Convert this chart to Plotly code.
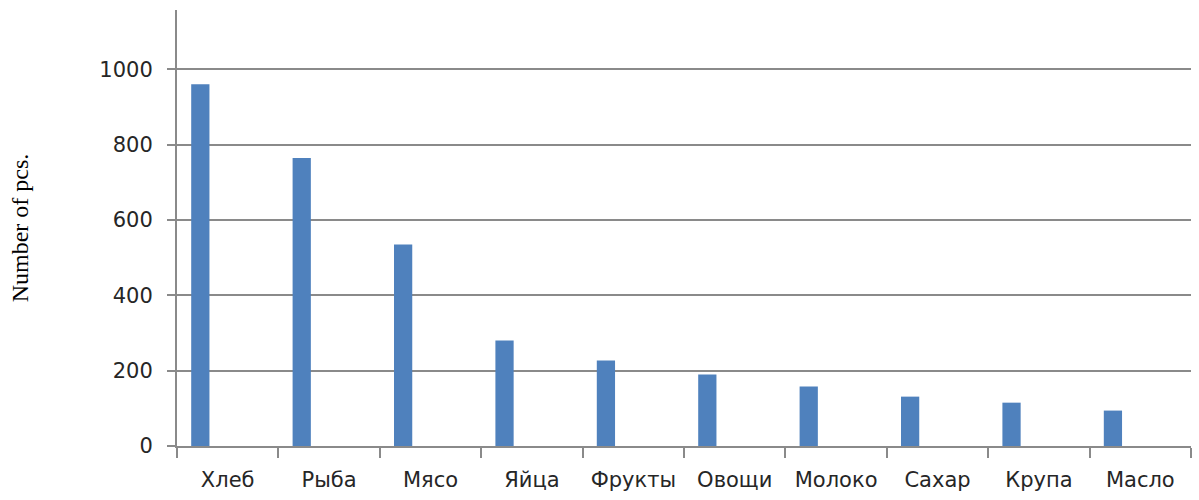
import plotly.graph_objects as go

# Product categories and counts
categories = ["Хлеб", "Рыба", "Мясо", "Яйца", "Фрукты", "Овощи", "Молоко", "Сахар", "Крупа", "Масло"]
counts = [960, 764, 535, 280, 227, 190, 158, 131, 115, 94]
y_ticks = [0, 200, 400, 600, 800, 1000]

tick_font = dict(family="DejaVu Sans", size=21, color="#262626")
axis_gray = "#8a8a8a"

fig = go.Figure(
    go.Bar(
        x=categories,
        y=counts,
        width=0.18,
        offset=-0.36,
        marker=dict(color="#4f81bd", line=dict(width=0)),
        showlegend=False,
    )
)

fig.update_layout(
    width=1199,
    height=500,
    margin=dict(l=177, r=8, t=10, b=54),
    paper_bgcolor="white",
    plot_bgcolor="white",
    xaxis=dict(
        type="category",
        tickson="boundaries",
        ticks="outside",
        ticklen=10,
        tickwidth=2,
        tickcolor=axis_gray,
        showline=True,
        linecolor=axis_gray,
        linewidth=2,
        showgrid=False,
        tickfont=tick_font,
        ticklabelstandoff=14,
    ),
    yaxis=dict(
        range=[0, 1157],
        tickvals=y_ticks,
        ticks="outside",
        ticklen=8,
        tickwidth=2,
        tickcolor=axis_gray,
        showline=True,
        linecolor=axis_gray,
        linewidth=2,
        showgrid=True,
        gridcolor=axis_gray,
        gridwidth=2,
        zeroline=False,
        tickfont=tick_font,
        ticklabelstandoff=10,
        title=dict(
            text="Number of pcs.",
            font=dict(family="Liberation Serif", size=24, color="black"),
            standoff=64,
        ),
    ),
)

fig.write_html("out.html")
